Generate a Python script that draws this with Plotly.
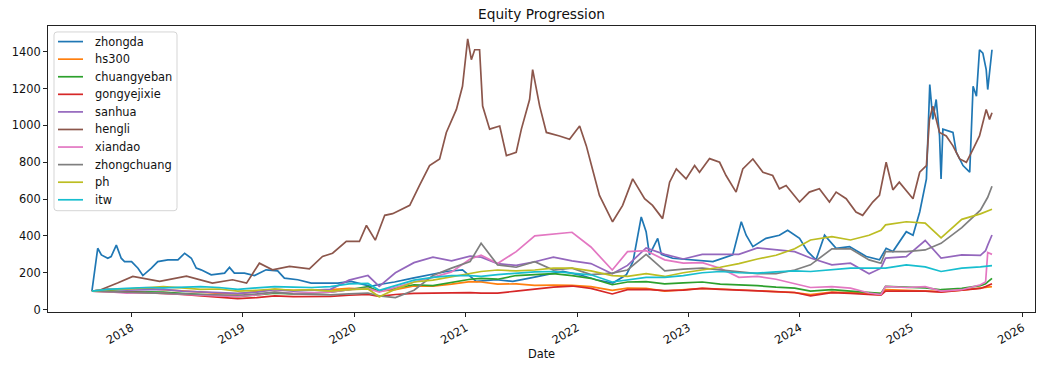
import pandas as pd
import plotly.graph_objects as go

# ---- data -------------------------------------------------------------
dates_common = [
    "2017-08-24", "2017-10-15", "2017-12-15", "2018-02-15", "2018-04-15", "2018-06-15",
    "2018-08-15", "2018-10-15", "2018-12-15", "2019-02-15", "2019-04-15", "2019-06-15",
    "2019-08-15", "2019-10-15", "2019-12-15", "2020-02-15", "2020-03-23", "2020-05-15",
    "2020-07-15", "2020-09-15", "2020-11-15", "2021-01-15", "2021-02-20", "2021-04-15",
    "2021-06-15", "2021-08-15", "2021-10-15", "2021-12-15", "2022-02-15", "2022-04-26",
    "2022-06-15", "2022-08-15", "2022-10-15", "2022-12-15", "2023-02-15", "2023-04-15",
    "2023-06-15", "2023-08-15", "2023-10-15", "2023-12-15", "2024-02-05", "2024-04-15",
    "2024-06-15", "2024-08-15", "2024-09-23", "2024-10-08", "2024-12-15", "2025-02-15",
    "2025-04-08", "2025-06-15", "2025-08-15", "2025-09-01", "2025-09-08", "2025-09-22",
]

hs300 = [100, 108, 112, 115, 108, 100, 92, 88, 85, 98, 110, 105, 105, 108, 115, 112, 100, 108,
         128, 127, 138, 152, 150, 138, 140, 132, 133, 132, 125, 105, 117, 115, 100, 108, 115, 112,
         108, 105, 98, 92, 82, 95, 93, 88, 87, 108, 105, 103, 98, 105, 115, 118, 120, 125]

chuangyeban = [100, 102, 98, 96, 95, 88, 82, 72, 70, 80, 90, 85, 88, 95, 108, 125, 100, 118,
               135, 130, 148, 165, 170, 165, 185, 190, 195, 185, 170, 135, 150, 152, 140, 145, 150, 138,
               135, 130, 122, 117, 100, 108, 100, 92, 88, 126, 120, 118, 108, 115, 130, 140, 150, 170]

gongyejixie = [100, 98, 95, 90, 88, 82, 75, 65, 60, 65, 75, 70, 70, 72, 78, 82, 72, 82,
               88, 90, 92, 92, 90, 90, 100, 112, 122, 128, 115, 85, 108, 110, 103, 106, 115, 110,
               106, 103, 98, 93, 75, 92, 88, 80, 78, 100, 100, 100, 95, 105, 115, 125, 130, 140]

sanhua = [100, 112, 105, 108, 110, 100, 95, 92, 88, 95, 108, 100, 105, 110, 160, 185, 126, 200,
          255, 285, 265, 290, 285, 250, 240, 260, 285, 265, 250, 195, 240, 335, 300, 275, 300, 300,
          300, 335, 325, 315, 280, 243, 252, 195, 225, 280, 288, 375, 280, 297, 295, 320, 350, 405]

xiandao = [100, 98, 90, 92, 88, 82, 78, 75, 72, 80, 95, 88, 90, 95, 108, 115, 95, 120,
           150, 175, 205, 275, 295, 250, 315, 400, 410, 420, 340, 215, 315, 320, 270, 252, 255, 225,
           175, 180, 165, 140, 120, 125, 117, 90, 82, 126, 120, 125, 100, 108, 135, 150, 310, 300]

zhongchuang = [100, 98, 95, 90, 88, 85, 82, 80, 78, 85, 95, 85, 82, 80, 85, 90, 75, 65,
               105, 185, 225, 261, 360, 243, 230, 260, 215, 225, 190, 198, 215, 300, 210, 220, 225, 215,
               207, 195, 195, 215, 243, 330, 330, 270, 252, 315, 315, 324, 360, 445, 540, 590, 610, 670]

ph = [100, 108, 112, 120, 125, 118, 110, 112, 100, 105, 112, 105, 108, 100, 108, 112, 70, 110,
      150, 160, 178, 195, 207, 215, 210, 215, 225, 225, 210, 185, 180, 195, 180, 200, 215, 230,
      250, 275, 295, 330, 378, 396, 378, 404, 431, 460, 477, 470, 390, 490, 520, 530, 535, 545]

itw = [100, 110, 115, 120, 118, 120, 125, 120, 110, 118, 125, 122, 120, 125, 140, 142, 105, 130,
       160, 175, 185, 185, 180, 190, 198, 205, 207, 200, 189, 150, 160, 175, 175, 185, 200, 207,
       200, 198, 205, 210, 207, 215, 225, 225, 225, 225, 243, 232, 207, 225, 232, 235, 237, 239]

zhongda_dates = [
    "2017-08-24", "2017-09-05", "2017-09-12", "2017-09-24", "2017-10-15", "2017-10-26",
    "2017-11-12", "2017-11-28", "2017-12-09", "2018-01-01", "2018-01-22", "2018-02-07",
    "2018-03-07", "2018-03-28", "2018-04-30", "2018-06-02", "2018-06-24", "2018-07-16",
    "2018-08-01", "2018-08-17", "2018-09-19", "2018-11-02", "2018-11-18", "2018-12-04",
    "2019-01-06", "2019-02-08", "2019-03-18", "2019-04-25", "2019-05-17", "2019-06-30",
    "2019-08-13", "2019-09-25", "2019-11-08", "2019-12-22", "2020-02-03", "2020-02-25",
    "2020-03-18", "2020-05-12", "2020-07-11", "2020-09-04", "2020-10-29", "2020-12-21",
    "2021-02-04", "2021-04-11", "2021-06-04", "2021-07-29", "2021-09-22", "2021-11-15",
    "2022-01-09", "2022-03-04", "2022-04-28", "2022-06-11", "2022-07-03", "2022-07-30",
    "2022-08-15", "2022-08-26", "2022-09-22", "2022-10-04", "2022-11-10", "2023-01-15",
    "2023-03-22", "2023-05-26", "2023-06-23", "2023-07-09", "2023-07-31", "2023-09-12",
    "2023-10-26", "2023-11-22", "2023-12-31", "2024-01-27", "2024-02-23", "2024-03-22",
    "2024-04-29", "2024-06-12", "2024-08-06", "2024-09-18", "2024-10-10", "2024-11-01",
    "2024-11-23", "2024-12-15", "2025-01-06", "2025-01-28", "2025-02-19", "2025-03-02",
    "2025-03-12", "2025-03-23", "2025-04-03", "2025-04-08", "2025-04-14", "2025-05-17",
    "2025-05-28", "2025-06-19", "2025-07-11", "2025-07-22", "2025-08-02", "2025-08-12",
    "2025-08-23", "2025-09-03", "2025-09-08", "2025-09-22",
]
zhongda = [
    100, 250, 333, 297, 279, 288, 350, 279, 261, 261, 225, 185,
    225, 261, 270, 270, 306, 279, 225, 216, 189, 198, 229, 198,
    198, 185, 216, 210, 171, 162, 144, 144, 144, 153, 135, 126,
    135, 150, 171, 189, 207, 216, 153, 162, 153, 171, 189, 207,
    189, 162, 144, 189, 261, 503, 423, 297, 387, 300, 279, 270,
    261, 297, 477, 404, 342, 387, 404, 431, 387, 315, 270, 404,
    333, 342, 288, 270, 333, 315, 369, 423, 404, 530, 710, 1222,
    1033, 1141, 943, 710, 980, 962, 854, 782, 746, 1213, 1159, 1411,
    1393, 1303, 1195, 1411,
]

hengli_dates = [
    "2017-08-24", "2017-09-18", "2017-11-16", "2018-01-05", "2018-04-03", "2018-06-30",
    "2018-09-23", "2018-11-28", "2019-01-13", "2019-02-24", "2019-04-08", "2019-06-03",
    "2019-08-07", "2019-09-19", "2019-10-22", "2019-12-06", "2020-01-18", "2020-02-10",
    "2020-03-10", "2020-04-10", "2020-05-06", "2020-06-07", "2020-07-01", "2020-08-02",
    "2020-09-04", "2020-10-07", "2020-10-29", "2020-12-01", "2020-12-21", "2021-01-07",
    "2021-01-19", "2021-01-30", "2021-02-15", "2021-02-25", "2021-03-20", "2021-04-22",
    "2021-05-14", "2021-06-15", "2021-07-02", "2021-07-29", "2021-08-08", "2021-08-31",
    "2021-09-22", "2021-11-04", "2021-12-07", "2022-01-09", "2022-01-31", "2022-02-20",
    "2022-03-15", "2022-04-27", "2022-05-30", "2022-07-02", "2022-08-10", "2022-09-05",
    "2022-10-08", "2022-10-31", "2022-11-22", "2022-12-24", "2023-01-21", "2023-02-06",
    "2023-03-11", "2023-04-13", "2023-05-04", "2023-06-06", "2023-06-28", "2023-07-31",
    "2023-09-02", "2023-10-04", "2023-10-26", "2023-11-17", "2023-12-31", "2024-02-01",
    "2024-03-05", "2024-04-07", "2024-04-29", "2024-06-01", "2024-07-03", "2024-07-25",
    "2024-08-27", "2024-09-18", "2024-10-10", "2024-11-01", "2024-11-22", "2025-01-06",
    "2025-01-28", "2025-02-19", "2025-03-01", "2025-03-12", "2025-04-03", "2025-04-25",
    "2025-05-17", "2025-06-08", "2025-06-30", "2025-07-22", "2025-08-12", "2025-09-03",
    "2025-09-14", "2025-09-22",
]
hengli = [
    100, 105, 144, 180, 153, 182,
    144, 162, 144, 252, 216, 235,
    221, 289, 306, 370, 370, 457,
    377, 512, 521, 548, 566, 674,
    782, 818, 962, 1087, 1213, 1470,
    1357, 1411, 1411, 1105, 980, 997,
    836, 854, 980, 1141, 1303, 1105,
    962, 943, 925, 997, 889, 764,
    620, 477, 566, 710, 602, 566,
    494, 692, 764, 710, 782, 746,
    820, 800, 728, 638, 764, 818,
    746, 728, 656, 674, 584, 638,
    656, 584, 638, 602, 530, 512,
    584, 620, 800, 650, 692, 602,
    746, 782, 1033, 1105, 962, 943,
    889, 818, 800, 872, 943, 1087,
    1033, 1069,
]

series_names = ["zhongda", "hs300", "chuangyeban", "gongyejixie", "sanhua",
                "hengli", "xiandao", "zhongchuang", "ph", "itw"]
series_colors = ["#1f77b4", "#ff7f0e", "#2ca02c", "#d62728", "#9467bd",
                 "#8c564b", "#e377c2", "#7f7f7f", "#bcbd22", "#17becf"]

year_ticks = ["2018-01-01", "2019-01-01", "2020-01-01", "2021-01-01", "2022-01-01",
              "2023-01-01", "2024-01-01", "2025-01-01", "2026-01-01"]
year_labels = ["2018", "2019", "2020", "2021", "2022", "2023", "2024", "2025", "2026"]
y_ticks = [0, 200, 400, 600, 800, 1000, 1200, 1400]

# ---- figure -----------------------------------------------------------
series_data = {
    "zhongda": (zhongda_dates, zhongda),
    "hs300": (dates_common, hs300),
    "chuangyeban": (dates_common, chuangyeban),
    "gongyejixie": (dates_common, gongyejixie),
    "sanhua": (dates_common, sanhua),
    "hengli": (hengli_dates, hengli),
    "xiandao": (dates_common, xiandao),
    "zhongchuang": (dates_common, zhongchuang),
    "ph": (dates_common, ph),
    "itw": (dates_common, itw),
}

FONT = "DejaVu Sans"
W, H = 1055, 371
ML, MR, MT, MB = 48, 20, 26, 57
PW, PH = W - ML - MR, H - MT - MB


def px(xpix):
    return (xpix - ML) / PW


def py(ypix):
    return (H - MB - ypix) / PH


fig = go.Figure()
for name, color in zip(series_names, series_colors):
    d, v = series_data[name]
    fig.add_trace(go.Scatter(
        x=pd.to_datetime(d), y=v, mode="lines", name=name, showlegend=False,
        line=dict(color=color, width=1.7),
    ))

# ---- matplotlib-like legend (box, line samples, labels) ----------------
shapes = []
annotations = []
bx0, bx1, by0, by1, rad = 54, 177, 32, 212, 3
rx, ry = rad / PW, rad / PH
x0, x1, y0, y1 = px(bx0), px(bx1), py(by1), py(by0)
path = (f"M {x0 + rx},{y0} L {x1 - rx},{y0} Q {x1},{y0} {x1},{y0 + ry} "
        f"L {x1},{y1 - ry} Q {x1},{y1} {x1 - rx},{y1} L {x0 + rx},{y1} "
        f"Q {x0},{y1} {x0},{y1 - ry} L {x0},{y0 + ry} Q {x0},{y0} {x0 + rx},{y0} Z")
shapes.append(dict(type="path", xref="paper", yref="paper", path=path,
                   fillcolor="rgba(255,255,255,0.8)", line=dict(color="#d5d5d5", width=1),
                   layer="above"))
for i, (name, color) in enumerate(zip(series_names, series_colors)):
    yc = 41.7 + i * 17.7
    shapes.append(dict(type="line", xref="paper", yref="paper",
                       x0=px(58), x1=px(83), y0=py(yc), y1=py(yc),
                       line=dict(color=color, width=1.7), layer="above"))
    annotations.append(dict(text=name, xref="paper", yref="paper",
                            x=px(92.5), y=py(yc), xanchor="left", yanchor="middle",
                            showarrow=False,
                            font=dict(family=FONT, size=11.4, color="#111")))

axis_common = dict(
    showgrid=False, zeroline=False, showline=True, mirror=True,
    linecolor="#222", linewidth=1, ticks="outside", ticklen=4, tickcolor="#222",
    tickfont=dict(family=FONT, size=11.4, color="#111"),
)

fig.update_layout(
    width=W, height=H,
    margin=dict(l=ML, r=MR, t=MT, b=MB),
    paper_bgcolor="white", plot_bgcolor="white",
    font=dict(family=FONT, size=11.4, color="#111"),
    title=dict(text="Equity Progression", x=0.5, xref="paper", xanchor="center",
               y=1 - 14 / H, yref="container", yanchor="middle",
               font=dict(family=FONT, size=13.7, color="#111")),
    showlegend=False,
    shapes=shapes,
    annotations=annotations,
)
fig.update_xaxes(
    type="date", range=["2017-04-02", "2026-02-10"],
    tickvals=pd.to_datetime(year_ticks), ticktext=year_labels, tickangle=-30,
    title=dict(text="Date", font=dict(family=FONT, size=11.4, color="#111"), standoff=4),
    **axis_common,
)
fig.update_yaxes(
    range=[-13, 1540], tickvals=y_ticks,
    **axis_common,
)

fig.write_html("out.html",
               config={"displayModeBar": False},
               post_script="document.body.style.margin='0px';document.body.style.overflow='hidden';")
